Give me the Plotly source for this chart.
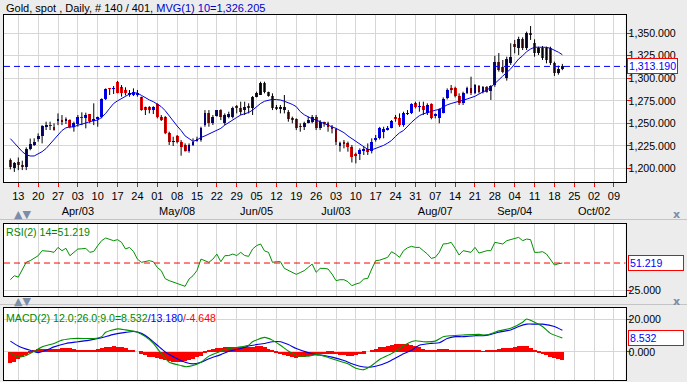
import plotly.graph_objects as go

W, H = 687, 382

# ---------------- data (trading-day index 0 = 2017-03-09 ... 139 = 2017-09-20) -------------
opens = [1209.2,1200.7,1207.4,1203.6,1201.8,1221.4,1225.9,1232.2,1236.2,1246.8,
         1247.5,1246.2,1253.6,1253.6,1252.9,1253.6,1245.5,1249.2,1256.6,1255.5,
         1259.9,1253.2,1255.2,1257.4,1276.6,1288.4,1288.5,1296.2,1290.7,1287.0,
         1281.0,1281.4,1282.5,1278.8,1268.5,1268.5,1264.7,1271.4,1257.4,1257.4,
         1238.8,1229.6,1235.9,1229.6,1225.9,1219.6,1225.9,1231.0,1231.4,1248.1,
         1261.8,1250.0,1258.1,1264.7,1250.0,1256.6,1256.6,1269.2,1266.6,1264.7,
         1269.2,1266.6,1279.6,1281.4,1294.4,1285.1,1280.3,1267.7,1266.6,1264.7,
         1262.9,1254.7,1254.4,1246.5,1246.2,1250.7,1251.8,1257.4,1244.4,1250.3,
         1250.0,1246.2,1243.3,1224.8,1229.6,1227.7,1223.3,1215.5,1215.9,1220.0,
         1221.0,1219.6,1231.4,1233.3,1240.7,1243.6,1245.1,1257.4,1255.5,1248.1,
         1260.6,1261.0,1272.2,1268.3,1269.2,1261.0,1271.4,1259.0,1255.5,1261.8,
         1277.7,1288.8,1288.8,1280.3,1272.2,1283.3,1288.8,1283.3,1291.4,1285.1,
         1290.7,1286.2,1292.0,1318.5,1312.0,1300.0,1316.6,1337.7,1333.3,1343.3,
         1333.3,1350.0,1338.9,1328.5,1333.3,1333.3,1333.3,1317.0,1306.0,1310.5]
highs = [1211.0,1207.0,1212.0,1208.5,1223.3,1233.0,1233.3,1238.8,1248.0,1251.8,
         1251.8,1250.0,1261.0,1259.2,1256.6,1254.4,1251.8,1259.2,1262.2,1261.8,
         1260.3,1272.2,1257.4,1277.7,1288.8,1288.8,1291.4,1297.0,1292.5,1290.0,
         1287.0,1288.8,1287.0,1279.6,1268.5,1269.0,1269.0,1272.2,1259.2,1258.0,
         1240.7,1235.1,1237.0,1231.4,1227.7,1227.7,1233.3,1235.1,1246.2,1264.7,
         1264.7,1259.2,1264.7,1265.5,1261.0,1262.9,1268.5,1270.3,1274.0,1274.0,
         1272.2,1280.3,1285.1,1296.2,1296.2,1285.1,1283.3,1270.3,1270.3,1281.4,
         1264.7,1257.4,1255.5,1250.0,1251.8,1257.4,1259.2,1259.2,1253.6,1251.8,
         1251.8,1248.1,1244.4,1229.6,1231.4,1229.6,1225.9,1217.4,1222.2,1224.0,
         1227.7,1233.3,1237.0,1246.0,1246.2,1247.0,1253.6,1259.2,1261.0,1262.9,
         1264.7,1272.2,1274.0,1274.0,1274.0,1272.2,1272.2,1261.0,1266.6,1278.8,
         1288.8,1292.5,1290.7,1283.3,1285.1,1290.7,1301.8,1293.6,1292.5,1291.4,
         1291.4,1292.5,1325.0,1328.0,1320.3,1324.0,1338.9,1342.6,1346.2,1345.5,
         1351.8,1358.1,1343.3,1335.1,1335.9,1335.1,1335.1,1318.5,1314.0,1316.0]
lows = [1198.8,1196.0,1198.0,1198.0,1198.0,1220.0,1224.8,1229.6,1227.7,1242.5,
        1242.5,1241.8,1248.0,1248.0,1249.2,1244.4,1240.7,1246.2,1248.0,1244.4,
        1250.0,1248.0,1246.2,1255.5,1275.9,1281.4,1282.5,1283.3,1279.6,1281.0,
        1279.5,1280.3,1279.6,1264.0,1259.2,1261.0,1260.3,1255.5,1252.5,1238.0,
        1225.9,1224.8,1227.7,1214.0,1218.5,1217.4,1224.8,1229.6,1229.6,1246.2,
        1246.2,1248.1,1257.4,1253.6,1248.1,1255.5,1255.5,1261.0,1259.2,1259.2,
        1261.0,1259.2,1278.8,1281.4,1283.3,1279.6,1264.7,1264.7,1261.0,1261.0,
        1251.8,1250.0,1242.5,1240.7,1242.5,1250.0,1250.0,1242.5,1242.5,1246.2,
        1240.7,1238.8,1225.9,1218.5,1222.2,1218.5,1206.5,1205.5,1209.2,1214.8,
        1214.8,1216.6,1229.6,1232.0,1233.3,1242.0,1244.4,1251.8,1246.2,1246.2,
        1259.2,1260.3,1266.6,1262.9,1259.2,1259.2,1254.4,1255.5,1250.0,1261.0,
        1276.6,1283.3,1278.8,1270.3,1270.3,1282.5,1281.4,1282.5,1283.3,1283.3,
        1284.0,1275.9,1290.5,1307.4,1305.5,1297.4,1314.8,1327.7,1325.9,1331.4,
        1331.4,1342.6,1324.0,1325.9,1320.3,1316.6,1314.8,1302.6,1304.0,1309.0]
closes = [1201.1,1205.5,1203.6,1201.8,1221.4,1227.0,1229.6,1235.9,1247.4,1247.4,
          1247.0,1242.5,1254.0,1251.8,1254.4,1246.2,1250.0,1256.6,1256.2,1259.2,
          1252.9,1253.6,1255.5,1276.6,1288.1,1288.1,1288.8,1284.0,1283.3,1283.3,
          1284.0,1285.1,1283.5,1264.7,1264.7,1264.7,1268.5,1257.4,1253.6,1238.8,
          1229.6,1229.9,1229.6,1223.3,1219.6,1225.9,1229.6,1231.4,1244.4,1261.8,
          1250.0,1257.4,1264.7,1256.6,1259.2,1260.3,1266.6,1267.3,1262.9,1268.5,
          1266.6,1279.6,1283.3,1295.1,1285.1,1280.3,1266.6,1266.6,1267.0,1268.5,
          1254.4,1254.4,1244.4,1246.2,1250.7,1253.6,1256.6,1244.4,1251.8,1250.0,
          1246.2,1244.4,1229.6,1228.5,1227.0,1223.3,1212.9,1214.7,1220.3,1220.6,
          1218.5,1229.6,1234.0,1244.4,1243.3,1245.1,1252.5,1254.7,1248.1,1261.0,
          1261.0,1271.0,1268.5,1268.5,1264.7,1270.3,1255.5,1259.2,1265.5,1276.6,
          1287.0,1287.0,1280.3,1272.9,1283.3,1288.8,1283.3,1292.5,1285.1,1290.7,
          1285.1,1291.4,1318.5,1309.2,1307.4,1321.0,1324.0,1335.1,1343.3,1333.3,
          1350.0,1348.1,1328.5,1333.3,1322.2,1320.3,1316.6,1306.0,1310.5,1313.19]
ma10 = [1233,1228,1223,1218.5,1215,1213.7,1213.7,1216,1218.5,1222,
        1227,1232,1237,1242,1245,1246,1246,1248,1249,1250.7,
        1251.8,1252.9,1253.6,1256.6,1261,1266.6,1272,1275,1277.7,1279.6,
        1282.5,1284,1283.5,1281,1278,1276,1274,1271,1268.5,1264,
        1258,1252,1247,1242,1236,1233,1230,1231.4,1234.4,1236,
        1238,1240.7,1242.5,1244.4,1248,1251,1254.5,1256.5,1259.2,1260.5,
        1262,1264.7,1268.5,1272,1274.5,1275.9,1276.6,1276.3,1275.9,1274.5,
        1273,1271,1268.5,1263,1259.5,1257,1255,1253.6,1251.5,1250,
        1248,1246,1244.4,1242,1239.6,1236,1233,1229.6,1227,1223.5,
        1221,1220.5,1222,1224,1225.5,1228,1231,1235.5,1239.5,1242,
        1247,1251,1255,1258.5,1260.5,1262,1263,1264.5,1265.5,1268,
        1270.5,1272,1273.5,1274.5,1275.5,1277,1278.5,1280,1282.5,1284.5,
        1287,1290,1294.5,1299,1302.5,1306.5,1310.5,1316,1321.5,1325,
        1329.6,1332.5,1334.5,1334.5,1334.5,1334.4,1333.3,1331.5,1329,1326.205]
rsi = [35.0,38.9,37.5,45.4,52.0,53.5,55.7,58.3,63.2,63.2,
       62.5,61.6,66.4,63.2,65.5,58.3,61.6,64.8,65.0,65.5,
       61.6,62.5,68.1,73.0,75.5,74.5,72.9,73.9,71.3,64.8,
       66.4,62.5,55.0,51.9,52.5,53.5,52.5,47.0,43.8,36.0,
       34.1,32.5,31.5,30.0,28.6,35.7,38.9,44.0,55.0,53.5,
       51.9,55.0,59.9,52.5,58.3,58.5,59.9,58.5,61.6,58.5,
       57.7,64.8,68.1,69.7,63.0,61.6,51.9,52.5,52.5,46.0,
       44.0,42.2,40.2,42.0,43.8,47.0,50.2,42.2,46.0,46.0,
       45.4,40.5,34.1,35.0,35.0,33.1,29.2,30.8,32.0,35.7,
       36.3,45.4,53.5,54.0,55.1,56.7,62.2,59.9,56.7,63.2,
       66.0,67.4,66.4,66.4,63.2,60.0,55.7,56.7,61.6,69.7,
       70.0,71.3,65.5,59.0,63.2,62.5,61.6,66.4,60.9,62.0,
       63.2,63.2,71.3,70.5,69.7,72.9,74.0,75.2,76.1,72.9,
       74.5,73.9,61.6,61.6,62.2,60.0,55.1,49.3,50.5,51.219]
macd_day = [0,2,4,6,8,11,13,16,19,21,23,24,27,29,32,34,36,38,40,43,44,46,48,50,53,55,58,60,61,
            64,66,68,70,72,75,77,79,81,85,87,89,91,93,96,98,100,102,104,107,109,111,114,118,
            120,123,126,129,130,132,134,136,139]
macd_val = [-0.4,-3.1,-2.1,0.4,3.1,5.2,7.2,8.2,8.2,8.2,9.3,12.0,14.0,13.4,12.0,9.3,5.2,-1.0,-6.2,
            -8.2,-8.9,-8.2,-6.2,-2.5,0.4,2.1,3.1,4.1,6.2,8.9,7.2,4.1,0.6,-2.1,-2.5,-1.6,-2.5,-4.1,
            -7.2,-9.9,-10.7,-8.2,-4.5,-1.0,2.1,5.2,6.8,6.2,6.6,9.3,9.9,10.3,10.7,10.3,12.8,14.4,
            18.1,20.0,18.1,15.5,11.3,8.532]
sig_day = [0,2,5,7,9,11,14,17,20,23,26,29,31,33,35,37,39,42,44,46,48,50,53,55,58,60,64,66,68,70,
           72,75,77,79,81,84,86,88,90,92,95,97,99,101,103,106,108,110,112,114,117,119,121,123,
           126,128,130,132,134,137,139]
sig_val = [6.6,3.7,1.0,-0.4,1.0,3.1,5.2,6.2,7.2,8.7,10.7,11.9,12.4,11.3,8.2,4.1,0.0,-4.1,-6.2,
           -7.2,-6.2,-4.1,-1.6,0.4,2.1,3.7,5.2,6.2,6.2,4.5,2.1,-0.4,-1.6,-2.1,-3.1,-5.2,-7.2,
           -8.7,-9.3,-8.7,-6.2,-3.7,-1.0,1.0,4.1,5.2,5.6,8.2,9.3,9.3,9.9,9.9,10.7,12.0,13.4,
           15.5,16.9,16.9,16.9,15.5,13.18]
hist = [-6.5,-6.0,-4.5,-3.0,-2.0,-0.5,0.8,1.8,2.0,2.0,
        2.0,2.0,2.0,2.2,2.5,2.2,1.8,1.5,1.5,1.5,
        1.5,1.5,1.8,2.5,3.0,3.2,3.5,3.2,2.8,2.2,
        1.5,1.0,0.0,-1.0,-1.8,-2.8,-3.2,-3.8,-4.3,-4.8,
        -5.3,-5.8,-6.0,-6.0,-5.6,-5.0,-4.0,-3.0,-2.2,-0.8,
        1.0,1.8,2.3,2.6,2.8,3.0,3.0,3.0,3.0,3.0,
        3.0,3.2,3.5,3.7,3.0,2.0,0.8,-0.8,-1.5,-2.0,
        -2.5,-3.0,-3.5,-3.3,-3.0,-2.5,-2.0,-1.8,-1.5,-1.3,
        -1.2,-1.0,-1.3,-1.6,-2.0,-2.2,-2.2,-2.0,-1.5,-1.0,
        0.0,1.0,2.0,2.8,3.2,3.7,4.2,4.6,5.0,5.0,
        4.8,4.5,3.5,3.0,2.0,1.5,1.0,1.2,1.8,2.0,
        1.8,1.5,1.2,1.0,1.0,1.0,1.0,1.0,0.8,0.6,
        0.8,1.0,1.5,2.0,2.2,2.3,2.5,3.0,3.4,3.5,
        3.5,2.5,1.2,-0.5,-1.3,-2.0,-2.8,-3.5,-4.2,-4.648]
week_labels = ["13","20","27","03","10","17","24","01","08","15","22","29","05","12","19","26",
               "03","10","17","24","31","07","14","21","28","04","11","18","25","02","09"]
month_labels = {3: "Apr/03", 8: "May/08", 12: "Jun/05", 16: "Jul/03", 21: "Aug/07", 25: "Sep/04", 29: "Oct/02"}
price_ticks = [1200, 1225, 1250, 1275, 1300, 1325, 1350]
last_price = 1313.19
last_rsi = 51.219
last_macd, last_sig, last_hist = 8.532, 13.180, -4.648
ma_last = 1326.205

# ---------------- derived ----------------
n = len(closes)
days = list(range(n))
tickvals = [2 + 5 * k for k in range(len(week_labels))]
ticktext = [lab + ("<br>" + month_labels[k] if k in month_labels else "") for k, lab in enumerate(week_labels)]

BLUE = "#0000FF"
RED = "#FF0000"
GREEN = "#008800"
GRID = "#D6D6D6"
FONT = "Arial"
FS = 10.6

body_base = [min(o, c) for o, c in zip(opens, closes)]
body_h = [max(abs(c - o), 0.7) for o, c in zip(opens, closes)]
body_col = [BLUE if c >= o else RED for o, c in zip(opens, closes)]
wx, wy = [], []
for d, lo, hi in zip(days, lows, highs):
    wx += [d, d, None]
    wy += [lo, hi, None]

fig = go.Figure()
# main panel
fig.add_trace(go.Scatter(x=wx, y=wy, mode="lines", line=dict(color="#000000", width=1),
                         hoverinfo="skip", xaxis="x", yaxis="y"))
fig.add_trace(go.Bar(x=days, y=body_h, base=body_base, width=0.72, marker=dict(color=body_col, line=dict(width=0)),
                     xaxis="x", yaxis="y"))
fig.add_trace(go.Scatter(x=days, y=ma10, mode="lines", line=dict(color="#0000E0", width=1),
                         xaxis="x", yaxis="y"))
# RSI panel
fig.add_trace(go.Scatter(x=days, y=rsi, mode="lines", line=dict(color="#009000", width=1),
                         xaxis="x2", yaxis="y2"))
# MACD panel
fig.add_trace(go.Bar(x=days, y=hist, width=1.0, marker=dict(color=RED, line=dict(width=0)),
                     xaxis="x3", yaxis="y3"))
fig.add_trace(go.Scatter(x=sig_day, y=sig_val, mode="lines", line=dict(color="#0000E0", width=1.1, shape="spline", smoothing=0.6),
                         xaxis="x3", yaxis="y3"))
fig.add_trace(go.Scatter(x=macd_day, y=macd_val, mode="lines", line=dict(color="#009000", width=1.1, shape="spline", smoothing=0.6),
                         xaxis="x3", yaxis="y3"))

def py(p):
    return 1 - p / H

XD = [4 / W, 625.5 / W]
XR = [-1.6, 154.9]
common_x = dict(domain=XD, range=XR, tickvals=tickvals, showgrid=True, gridcolor=GRID, gridwidth=1,
                showline=True, linecolor="black", linewidth=1, mirror=True, zeroline=False, fixedrange=True)
common_y = dict(side="right", showgrid=True, gridcolor=GRID, showline=True, linecolor="black", linewidth=1,
                mirror=True, zeroline=False, ticks="outside", tickcolor=RED, ticklen=4, tickwidth=1,
                ticklabelstandoff=-4,
                tickfont=dict(family=FONT, size=FS, color="black"))

fig.update_layout(
    width=W, height=H, margin=dict(l=0, r=0, t=0, b=0),
    paper_bgcolor="#ECECEC", plot_bgcolor="white", showlegend=False, bargap=0,
    xaxis=dict(**common_x, anchor="y", ticktext=ticktext, ticks="outside", tickcolor=RED, ticklen=4,
               tickangle=0, tickfont=dict(family=FONT, size=11, color="black")),
    yaxis=dict(**common_y, domain=[py(182), py(15)], range=[1184.8, 1370.3], anchor="x",
               tickvals=price_ticks, tickformat=",.3f"),
    xaxis2=dict(**common_x, anchor="y2", showticklabels=False, ticks=""),
    yaxis2=dict(**common_y, domain=[py(296), py(224)], range=[19.2, 89.1], anchor="x2",
                tickvals=[25], tickformat=".3f"),
    xaxis3=dict(**common_x, anchor="y3", showticklabels=False, ticks=""),
    yaxis3=dict(**common_y, domain=[py(380), py(308)], range=[-17.0, 26.7], anchor="x3",
                tickvals=[0, 20], tickformat=".3f"),
)

shapes = [
    dict(type="line", xref="x domain", x0=0, x1=1, yref="y", y0=last_price, y1=last_price,
         line=dict(color="#0000FF", width=1, dash="6px,4px")),
    dict(type="line", xref="x2 domain", x0=0, x1=1, yref="y2", y0=last_rsi, y1=last_rsi,
         line=dict(color=RED, width=1, dash="6px,4px")),
    dict(type="line", xref="paper", x0=0, x1=1, yref="paper", y0=py(219.5), y1=py(219.5),
         line=dict(color="#C4C4C4", width=1)),
    dict(type="line", xref="paper", x0=0, x1=1, yref="paper", y0=py(304.5), y1=py(304.5),
         line=dict(color="#C4C4C4", width=1)),
]
fig.update_layout(shapes=shapes)

ann = []
ann.append(dict(xref="paper", yref="paper", x=4 / W, y=py(8), xanchor="left", yanchor="middle", showarrow=False,
                text=f"Gold, spot , Daily, # {n} / 401, <span style='color:#0000CC'>MVG(1) 10={ma_last:,.3f}</span>",
                font=dict(family=FONT, size=11, color="black")))
ann.append(dict(xref="paper", yref="y", x=627 / W, y=last_price, xanchor="left", yanchor="middle", showarrow=False,
                text=f"{last_price:,.3f}", font=dict(family=FONT, size=FS, color="#0000FF"),
                bgcolor="white", bordercolor=RED, borderwidth=1, borderpad=1))
ann.append(dict(xref="paper", yref="paper", x=4 / W, y=py(232), xanchor="left", yanchor="middle", showarrow=False,
                text=f"RSI(2) 14={last_rsi:.3f}", font=dict(family=FONT, size=FS, color=GREEN)))
ann.append(dict(xref="paper", yref="y2", x=628 / W, y=last_rsi, xanchor="left", yanchor="middle", showarrow=False,
                text=f"{last_rsi:.3f}", font=dict(family=FONT, size=FS, color="#0000FF"),
                bgcolor="white", bordercolor=RED, borderwidth=1, borderpad=1, width=52, align="left"))
ann.append(dict(xref="paper", yref="paper", x=4 / W, y=py(318), xanchor="left", yanchor="middle", showarrow=False,
                text=(f"MACD(2) 12.0;26.0;9.0={last_macd:.3f}<span style='color:#0000FF'>/{last_sig:.3f}</span>"
                      f"<span style='color:#FF0000'>/{last_hist:.3f}</span>"),
                font=dict(family=FONT, size=FS, color=GREEN)))
ann.append(dict(xref="paper", yref="y3", x=628 / W, y=last_macd, xanchor="left", yanchor="middle", showarrow=False,
                text=f"{last_macd:.3f}", font=dict(family=FONT, size=FS, color="#0000FF"),
                bgcolor="white", bordercolor=RED, borderwidth=1, borderpad=1, width=52, align="left"))
for yy in (215, 301):
    ann.append(dict(xref="paper", yref="paper", x=12 / W, y=py(yy), xanchor="left", yanchor="middle", showarrow=False,
                    text="▲▼", font=dict(family="DejaVu Sans", size=11, color="#7D8CA8")))
    ann.append(dict(xref="paper", yref="paper", x=676 / W, y=py(yy), xanchor="center", yanchor="middle", showarrow=False,
                    text="<b>x</b>", font=dict(family="DejaVu Sans", size=11, color="#7D8CA8")))
fig.update_layout(annotations=ann)

fig.write_html("out.html", config={"displayModeBar": False},
               post_script="document.body.style.margin='0px';document.body.style.overflow='hidden';")
